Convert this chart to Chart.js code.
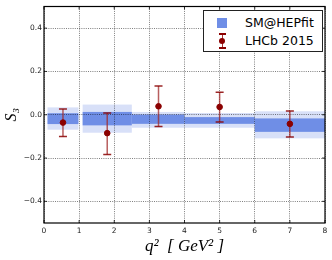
<!DOCTYPE html>
<html><head><meta charset="utf-8">
<script src="https://cdn.jsdelivr.net/npm/chart.js@4.4.1/dist/chart.umd.min.js"></script>
<style>
html,body{margin:0;padding:0;background:#fff;}
#wrap{position:relative;width:332px;height:260px;}
canvas{display:block;}
#legend{position:absolute;left:203px;top:10px;width:118px;height:40px;border:1px solid #222;background:#fff;font-family:'DejaVu Sans',sans-serif;font-size:12.5px;color:#000;}
.row{position:absolute;left:0;height:16px;line-height:16px;}
.txt{position:absolute;left:41px;white-space:nowrap;}
.sq{position:absolute;left:13px;top:3px;width:10px;height:10px;background:#6f8ee6;}
.eb{position:absolute;left:18px;top:0;width:1px;height:15px;background:#a33;}
.cap{position:absolute;left:15px;width:7px;height:2px;background:#8b0000;}
.dot{position:absolute;left:15px;top:5px;width:6px;height:6px;border-radius:3px;background:#8b0000;}
</style>
</head><body>
<div id="wrap">
<canvas id="c" width="332" height="260"></canvas>
<div id="legend">
  <div class="row" style="top:4px;width:118px;"><div class="sq"></div><div class="txt">SM@HEPfit</div></div>
  <div class="row" style="top:22px;width:118px;"><div class="eb"></div><div class="cap" style="top:0"></div><div class="cap" style="top:14px"></div><div class="dot"></div><div class="txt">LHCb 2015</div></div>
</div>
</div>
<script>
// SM@HEPfit bins
const binLo = [0.1, 1.1, 2.5, 4.0, 6.0];
const binHi = [0.98, 2.5, 4.0, 6.0, 8.0];
const smOuterHi = [0.034, 0.047, 0.013, 0.008, 0.016];
const smOuterLo = [-0.069, -0.083, -0.060, -0.060, -0.109];
const smInnerHi = [0.007, 0.013, 0.001, -0.011, -0.017];
const smInnerLo = [-0.043, -0.049, -0.042, -0.042, -0.079];
// LHCb 2015
const lhcbX = [0.54, 1.8, 3.26, 5.0, 7.0];
const lhcbY = [-0.036, -0.085, 0.039, 0.036, -0.042];
const lhcbUp = [0.027, 0.008, 0.133, 0.104, 0.017];
const lhcbDn = [-0.100, -0.184, -0.054, -0.034, -0.103];
// ticks
const xTicks = [0, 1, 2, 3, 4, 5, 6, 7, 8];
const yTicks = [-0.4, -0.2, 0.0, 0.2, 0.4];

const LIGHT = '#d8e0f8', DARK = '#6f8ee6';

const bandPlugin = {
  id: 'bands',
  beforeDraw(chart) {
    const {ctx, scales: {x, y}} = chart;
    ctx.save();
    const rect = (x0, x1, y0, y1, col) => {
      const px0 = x.getPixelForValue(x0), px1 = x.getPixelForValue(x1);
      const py0 = y.getPixelForValue(y1), py1 = y.getPixelForValue(y0);
      ctx.fillStyle = col;
      ctx.fillRect(px0, py0, px1 - px0, py1 - py0);
    };
    for (let i = 0; i < binLo.length; i++) rect(binLo[i], binHi[i], smOuterLo[i], smOuterHi[i], LIGHT);
    for (let i = 0; i < binLo.length; i++) rect(binLo[i], binHi[i], smInnerLo[i], smInnerHi[i], DARK);
    ctx.restore();
  },
  beforeDatasetsDraw(chart) {
    const {ctx, scales: {x, y}} = chart;
    ctx.save();
    for (let i = 0; i < lhcbX.length; i++) {
      const px = x.getPixelForValue(lhcbX[i]);
      const pt = y.getPixelForValue(lhcbUp[i]), pb = y.getPixelForValue(lhcbDn[i]);
      ctx.strokeStyle = 'rgba(160,40,40,0.75)';
      ctx.lineWidth = 1.5;
      ctx.beginPath(); ctx.moveTo(px, pt); ctx.lineTo(px, pb); ctx.stroke();
      ctx.strokeStyle = 'rgba(139,0,0,0.85)';
      ctx.lineWidth = 1.5;
      ctx.beginPath();
      ctx.moveTo(px - 4, pt); ctx.lineTo(px + 4, pt);
      ctx.moveTo(px - 4, pb); ctx.lineTo(px + 4, pb);
      ctx.stroke();
    }
    ctx.restore();
  },
  afterDraw(chart) {
    const {ctx, chartArea: a, scales: {x, y}} = chart;
    ctx.save();
    ctx.strokeStyle = '#000';
    ctx.lineWidth = 1.2;
    ctx.strokeRect(a.left, a.top, a.right - a.left, a.bottom - a.top);
    ctx.lineWidth = 0.8;
    ctx.beginPath();
    xTicks.forEach(v => {
      const px = x.getPixelForValue(v);
      ctx.moveTo(px, a.bottom); ctx.lineTo(px, a.bottom - 3);
      ctx.moveTo(px, a.top); ctx.lineTo(px, a.top + 3);
    });
    yTicks.forEach(v => {
      const py = y.getPixelForValue(v);
      ctx.moveTo(a.left, py); ctx.lineTo(a.left + 3, py);
      ctx.moveTo(a.right, py); ctx.lineTo(a.right - 3, py);
    });
    ctx.stroke();
    ctx.restore();
  }
};

new Chart(document.getElementById('c'), {
  type: 'scatter',
  data: {
    datasets: [{
      label: 'LHCb 2015',
      data: lhcbX.map((v, i) => ({x: v, y: lhcbY[i]})),
      backgroundColor: '#8b0000',
      borderColor: '#8b0000',
      pointRadius: 2.8,
      pointHoverRadius: 2.8
    }]
  },
  options: {
    responsive: false,
    animation: false,
    events: [],
    layout: {padding: {top: 3.5, right: 7, left: 0, bottom: 0}},
    plugins: {legend: {display: false}, tooltip: {enabled: false}},
    scales: {
      x: {
        type: 'linear', min: 0, max: 8,
        afterBuildTicks(s) { s.ticks = xTicks.map(v => ({value: v})); },
        afterFit(s) { s.height = 37; },
        grid: {color: 'rgba(0,0,0,0.5)', lineWidth: 1, drawTicks: false},
        border: {display: false, dash: [1, 1.2]},
        ticks: {padding: 4, color: '#222', font: {family: 'DejaVu Sans', size: 7.5},
          callback: v => String(v)},
        title: {display: true, text: 'q²  [ GeV² ]', color: '#000',
          font: {family: 'Liberation Serif', style: 'italic', size: 17}, padding: {top: 0, bottom: 3}}
      },
      y: {
        type: 'linear', min: -0.5, max: 0.5,
        afterBuildTicks(s) { s.ticks = yTicks.map(v => ({value: v})); },
        afterFit(s) { s.width = 44; },
        grid: {color: 'rgba(0,0,0,0.5)', lineWidth: 1, drawTicks: false},
        border: {display: false, dash: [1, 1.2]},
        ticks: {padding: 2, color: '#222', font: {family: 'DejaVu Sans', size: 7.5},
          callback: v => (v < 0 ? '\u2212' : '') + Math.abs(v).toFixed(1)},
        title: {display: true, text: 'S₃', color: '#000',
          font: {family: 'Liberation Serif', style: 'italic', size: 16}, padding: {top: 2, bottom: 0}}
      }
    }
  },
  plugins: [bandPlugin]
});
</script>
</body></html>
